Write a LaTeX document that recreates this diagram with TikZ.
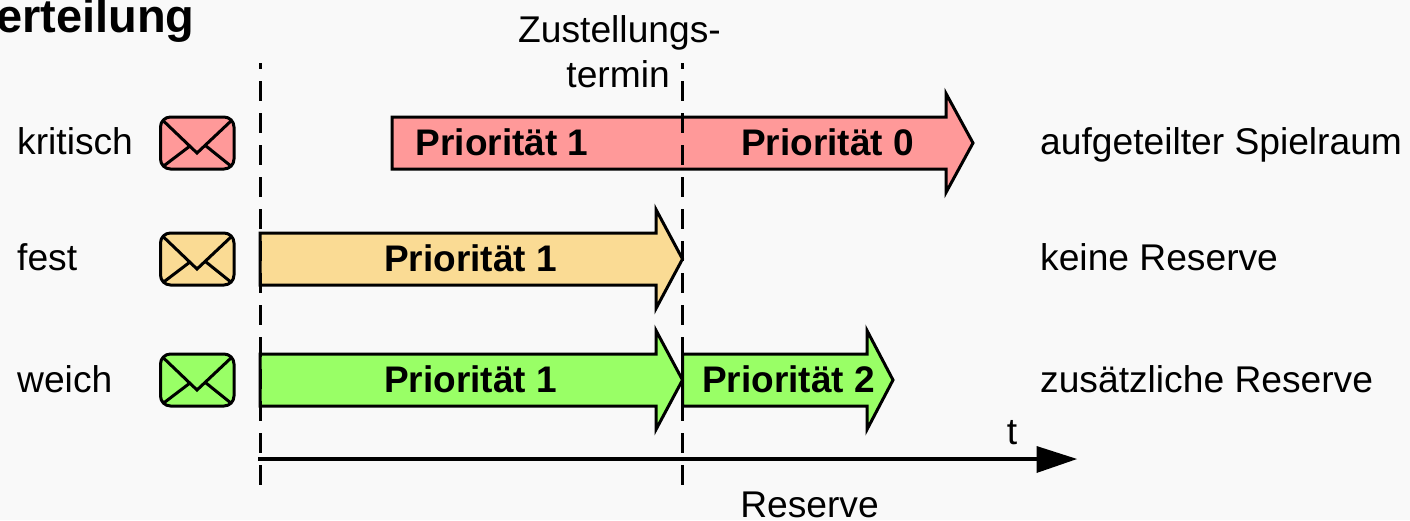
\documentclass[tikz,border=0pt]{standalone}
\usepackage{fontspec}
\setmainfont{Liberation Sans}
\definecolor{bgc}{HTML}{F9F9F9}
\definecolor{redc}{HTML}{FF9999}
\definecolor{orac}{HTML}{FADB94}
\definecolor{grec}{HTML}{99FF66}
\tikzset{
  lab/.style={anchor=base west,inner sep=0pt,font=\fontsize{37.2}{37}\selectfont},
  pri/.style={anchor=base,inner sep=0pt,font=\fontsize{37}{37}\selectfont\bfseries},
  outl/.style={draw=black,line width=3pt,miter limit=10,line join=miter},
  dl/.style={draw=black,line width=3pt,dash pattern=on 20pt off 12pt,dash phase=14pt},
  envl/.style={draw=black,line width=3pt},
}
% #1 x left, #2 x neck, #3 x tip, #4 y mid, #5 colour
\newcommand{\prioarrow}[5]{%
  \draw[outl,fill=#5] (#1,#4-26) -- (#2,#4-26) -- (#2,#4-49.5) -- (#3,#4) -- (#2,#4+49.5) -- (#2,#4+26) -- (#1,#4+26) -- cycle;}
% #1 y mid, #2 colour
\newcommand{\envelope}[2]{%
  \draw[envl,fill=#2,rounded corners=10pt] (160.5,#1-26) rectangle (234,#1+26);
  \draw[envl,line join=miter] (163,#1-22.5) -- (197,#1+10) -- (231.5,#1-22.5);
  \draw[envl] (163,#1+23.5) -- (190,#1+3);
  \draw[envl] (231.5,#1+23.5) -- (206,#1+3);}
\begin{document}
\begin{tikzpicture}[x=1pt,y=-1pt]
\useasboundingbox (0,0) rectangle (1410,520);
\fill[bgc] (0,0) rectangle (1410,520);
\clip (0,0) rectangle (1410,520);
\node[anchor=base west,inner sep=0pt,font=\fontsize{47}{47}\selectfont\bfseries] (title) at (-4,32) {erteilung};
\node[lab,anchor=base] (zust) at (619.5,42.5) {Zustellungs-};
\node[lab,anchor=base east] (term) at (670,87) {termin};
\node[lab] (krit) at (17,154) {kritisch};
\node[lab] (fest) at (17,270) {fest};
\node[lab] (weich) at (17,392) {weich};
\envelope{143}{redc}
\envelope{259}{orac}
\envelope{380}{grec}
\prioarrow{392}{946}{973}{143}{redc}
\prioarrow{260}{656}{682.5}{259}{orac}
\prioarrow{260}{656}{682.5}{380}{grec}
\prioarrow{682.5}{867}{893}{380}{grec}
\coordinate (d1a) at (260,63); \coordinate (d1b) at (260,488);
\coordinate (d2a) at (682.5,63); \coordinate (d2b) at (682.5,488);
\draw[dl] (d1a) -- (d1b);
\draw[dl] (d2a) -- (d2b);
\node[pri] (p1) at (502,155) {Priorität 1};
\node[pri] (p0) at (827.5,155) {Priorität 0};
\node[pri] (p2) at (470.5,271) {Priorität 1};
\node[pri] (p3) at (470.5,392) {Priorität 1};
\node[pri] (p4) at (788.5,392) {Priorität 2};
\node[lab] (r1) at (1040,154) {aufgeteilter Spielraum};
\node[lab] (r2) at (1040,270) {keine Reserve};
\node[lab] (r3) at (1040,392) {zusätzliche Reserve};
\coordinate (ax0) at (258,459);
\coordinate (ax1) at (1037,459);
\coordinate (axtip) at (1077,459);
\draw[black,line width=4pt] (ax0) -- (ax1);
\fill[black] (1036.5,446) -- (axtip) -- (1036.5,473) -- cycle;
\node[lab,anchor=base] (t) at (1012,444) {t};
\node[lab,anchor=base] (res) at (809.5,517) {Reserve};
\end{tikzpicture}
\end{document}
